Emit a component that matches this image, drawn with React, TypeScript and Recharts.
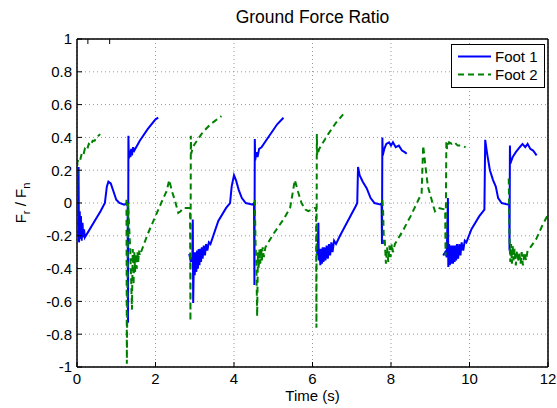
import React from 'react';
import { CartesianGrid, Line, LineChart, ReferenceArea, XAxis, YAxis } from 'recharts';

// [time (s), Fr/Fn]; null = foot in the air (line break)
const foot1Samples: [number, number | null][] = [
  [0.04, 0.22], [0.05, -0.24], [0.07, -0.05], [0.08, -0.22], [0.1, -0.08], [0.12, -0.23], [0.14, -0.12], [0.16, -0.21],
  [0.18, -0.16], [0.2, -0.21], [0.3, -0.17], [0.45, -0.11], [0.6, -0.05], [0.71, 0.0], [0.76, 0.1], [0.8, 0.13],
  [0.86, 0.12], [0.93, 0.07], [1.0, 0.02], [1.08, 0.0], [1.2, -0.01], [1.29, 0.0], [1.3, -0.73], [1.31, 0.41],
  [1.32, 0.27], [1.34, 0.32], [1.36, 0.28], [1.38, 0.33], [1.4, 0.29], [1.43, 0.34], [1.46, 0.32], [1.6, 0.38],
  [1.8, 0.45], [2.0, 0.51], [2.07, 0.52], [2.5, null],
  [2.86, -0.31], [2.9, -0.36], [2.94, -0.33], [2.95, -0.1], [2.96, -0.61], [2.98, -0.3], [3.0, -0.44], [3.02, -0.3],
  [3.04, -0.42], [3.06, -0.29], [3.08, -0.4], [3.1, -0.28], [3.12, -0.38], [3.14, -0.28], [3.16, -0.36], [3.18, -0.27],
  [3.2, -0.34], [3.23, -0.26], [3.26, -0.32], [3.29, -0.25], [3.32, -0.29], [3.36, -0.24], [3.4, -0.25], [3.6, -0.11],
  [3.8, -0.03], [3.9, 0.0], [3.94, 0.1], [4.0, 0.17], [4.05, 0.14], [4.12, 0.08], [4.2, 0.03], [4.3, 0.0],
  [4.48, -0.01], [4.51, 0.0], [4.52, -0.5], [4.53, 0.39], [4.54, 0.26], [4.57, 0.31], [4.6, 0.28], [4.64, 0.33],
  [4.7, 0.34], [4.9, 0.41], [5.1, 0.48], [5.26, 0.52], [5.7, null],
  [6.1, -0.27], [6.13, -0.32], [6.15, -0.12], [6.16, -0.35], [6.18, -0.28], [6.2, -0.38], [6.22, -0.28], [6.24, -0.37],
  [6.26, -0.27], [6.28, -0.36], [6.3, -0.27], [6.33, -0.35], [6.36, -0.26], [6.39, -0.34], [6.42, -0.25], [6.45, -0.32],
  [6.48, -0.24], [6.51, -0.3], [6.55, -0.23], [6.6, -0.25], [6.7, -0.2], [6.9, -0.11], [7.1, -0.02], [7.14, 0.0],
  [7.16, 0.22], [7.2, 0.17], [7.28, 0.13], [7.38, 0.09], [7.48, 0.03], [7.58, 0.0], [7.74, -0.01], [7.76, 0.0],
  [7.77, -0.25], [7.78, 0.4], [7.79, 0.29], [7.83, 0.33], [7.88, 0.36], [7.95, 0.37], [8.0, 0.35], [8.05, 0.37],
  [8.12, 0.34], [8.2, 0.35], [8.28, 0.32], [8.35, 0.31], [8.4, 0.3], [8.9, null],
  [9.33, -0.32], [9.38, -0.3], [9.42, -0.33], [9.45, 0.03], [9.46, -0.39], [9.48, -0.25], [9.5, -0.38], [9.52, -0.26],
  [9.54, -0.37], [9.56, -0.26], [9.58, -0.37], [9.6, -0.26], [9.62, -0.36], [9.64, -0.26], [9.66, -0.35], [9.68, -0.25],
  [9.71, -0.34], [9.74, -0.25], [9.77, -0.32], [9.8, -0.24], [9.84, -0.29], [9.88, -0.23], [9.92, -0.24], [10.05, -0.16],
  [10.25, -0.08], [10.38, -0.04], [10.4, 0.385], [10.45, 0.3], [10.52, 0.2], [10.6, 0.14], [10.67, 0.1], [10.73, 0.03],
  [10.82, 0.0], [10.99, -0.01], [11.01, 0.0], [11.02, -0.29], [11.03, 0.35], [11.04, 0.24], [11.1, 0.28], [11.18, 0.31],
  [11.28, 0.34], [11.35, 0.36], [11.42, 0.34], [11.48, 0.36], [11.55, 0.33], [11.62, 0.32], [11.71, 0.29],
];

const foot2Samples: [number, number | null][] = [
  [0.0, -0.2], [0.01, 0.25], [0.05, 0.27], [0.08, 0.26], [0.12, 0.3], [0.16, 0.29], [0.2, 0.33], [0.25, 0.32],
  [0.3, 0.36], [0.35, 0.35], [0.4, 0.38], [0.45, 0.38], [0.5, 0.4], [0.59, 0.42], [0.9, null],
  [1.26, 0.02], [1.27, -0.98], [1.3, 0.0], [1.36, -0.3], [1.4, -0.65], [1.42, -0.28], [1.44, -0.5], [1.46, -0.3],
  [1.48, -0.42], [1.5, -0.31], [1.52, -0.4], [1.54, -0.3], [1.56, -0.36], [1.58, -0.29], [1.6, -0.32], [1.8, -0.19],
  [2.0, -0.08], [2.2, 0.03], [2.28, 0.07], [2.35, 0.14], [2.42, 0.07], [2.49, 0.02], [2.58, -0.06], [2.64, -0.05],
  [2.71, -0.03], [2.88, -0.03], [2.89, -0.72], [2.9, 0.41], [2.91, 0.3], [2.95, 0.34], [3.0, 0.36], [3.2, 0.43],
  [3.4, 0.48], [3.68, 0.53], [4.1, null],
  [4.53, 0.02], [4.55, -0.25], [4.57, -0.38], [4.59, -0.69], [4.61, -0.3], [4.63, -0.4], [4.65, -0.28], [4.67, -0.37],
  [4.69, -0.27], [4.71, -0.35], [4.73, -0.27], [4.76, -0.33], [4.8, -0.27], [5.0, -0.19], [5.26, -0.1], [5.43, -0.03],
  [5.55, 0.14], [5.63, 0.07], [5.72, 0.0], [5.82, -0.04], [5.89, -0.05], [6.06, -0.03], [6.09, -0.03], [6.1, -0.76],
  [6.11, 0.42], [6.12, 0.29], [6.17, 0.33], [6.22, 0.35], [6.4, 0.42], [6.6, 0.49], [6.78, 0.54], [7.3, null],
  [7.78, 0.02], [7.8, -0.05], [7.82, -0.25], [7.84, -0.22], [7.87, -0.37], [7.9, -0.27], [7.93, -0.36], [7.96, -0.26],
  [7.99, -0.33], [8.02, -0.25], [8.05, -0.3], [8.1, -0.25], [8.3, -0.17], [8.5, -0.08], [8.7, 0.02], [8.78, 0.06],
  [8.82, 0.35], [8.88, 0.22], [8.94, 0.1], [9.0, 0.05], [9.08, -0.02], [9.12, -0.05], [9.2, -0.03], [9.38, -0.04],
  [9.39, -0.32], [9.41, 0.38], [9.43, 0.33], [9.48, 0.37], [9.55, 0.36], [9.62, 0.37], [9.7, 0.35], [9.8, 0.35],
  [9.9, 0.34], [10.5, null],
  [11.0, 0.15], [11.02, -0.22], [11.04, -0.36], [11.06, -0.25], [11.08, -0.37], [11.1, -0.26], [11.12, -0.35],
  [11.15, -0.28], [11.18, -0.38], [11.21, -0.29], [11.24, -0.36], [11.27, -0.3], [11.3, -0.37], [11.33, -0.3],
  [11.36, -0.38], [11.4, -0.3], [11.44, -0.35], [11.48, -0.29], [11.55, -0.27], [11.7, -0.22], [11.85, -0.14],
  [12.0, -0.07],
];

const timeTicks = [0, 2, 4, 6, 8, 10, 12];
const ratioTicks = [-1, -0.8, -0.6, -0.4, -0.2, 0, 0.2, 0.4, 0.6, 0.8, 1];

const foot1 = foot1Samples.map(([t, v]) => ({ t, v }));
const foot2 = foot2Samples.map(([t, v]) => ({ t, v }));

const FONT = '"Liberation Sans", Arial, Helvetica, sans-serif';
const tickStyle = { fontSize: 15, fill: '#000', fontFamily: FONT };
const noTick = () => <g />;

const LegendBox = () => (
  <svg width={94} height={44} style={{ position: 'absolute', left: 451, top: 44 }}>
    <rect x={0.5} y={0.5} width={93} height={43} fill="#fff" stroke="#000" />
    <line x1={7} y1={12.5} x2={40} y2={12.5} stroke="#0000ff" strokeWidth={2} />
    <text x={44} y={17.5} fontSize={15} fontFamily={FONT} fill="#000">Foot 1</text>
    <line x1={7} y1={30.5} x2={40} y2={30.5} stroke="#008000" strokeWidth={2} strokeDasharray="6 4" />
    <text x={44} y={35.5} fontSize={15} fontFamily={FONT} fill="#000">Foot 2</text>
  </svg>
);

export default function App() {
  return (
    <div style={{ position: 'absolute', left: 0, top: 0, width: 557, height: 408, background: '#fff', fontFamily: FONT }}>
      <div style={{ position: 'absolute', left: 77, width: 471, top: 7, textAlign: 'center', fontSize: 17.5, color: '#000' }}>
        Ground Force Ratio
      </div>
      <div style={{ position: 'absolute', left: 77, width: 471, top: 387, textAlign: 'center', fontSize: 15, color: '#000' }}>
        Time (s)
      </div>
      <div
        style={{
          position: 'absolute',
          left: 22,
          top: 203,
          transform: 'translate(-50%, -50%) rotate(-90deg)',
          whiteSpace: 'nowrap',
          fontSize: 15,
          color: '#000',
        }}
      >
        F<sub style={{ fontSize: 11 }}>r</sub> / F<sub style={{ fontSize: 11 }}>n</sub>
      </div>
      <LineChart width={557} height={408} data={foot1} margin={{ top: 38, right: 8, bottom: 11, left: 27 }}>
        <CartesianGrid stroke="#999" strokeDasharray="1 3" />
        <XAxis
          dataKey="t"
          type="number"
          domain={[0, 12]}
          ticks={timeTicks}
          allowDataOverflow
          height={30}
          stroke="#000"
          tickSize={-5}
          tickMargin={11}
          tick={tickStyle}
        />
        <XAxis xAxisId="top" orientation="top" type="number" domain={[0, 12]} ticks={timeTicks} height={1} stroke="#000" tickSize={-5} tick={noTick} />
        <YAxis
          type="number"
          domain={[-1, 1]}
          ticks={ratioTicks}
          allowDataOverflow
          width={50}
          stroke="#000"
          tickSize={-5}
          tickMargin={10}
          tick={tickStyle}
          tickFormatter={(v: number) => String(Math.round(v * 10) / 10)}
        />
        <YAxis yAxisId="right" orientation="right" type="number" domain={[-1, 1]} ticks={ratioTicks} width={1} stroke="#000" tickSize={-5} tick={noTick} />
        <ReferenceArea x1={0} x2={12} y1={-1} y2={1} fill="none" stroke="#000" strokeWidth={1} ifOverflow="visible" />
        <Line
          data={foot1}
          dataKey="v"
          name="Foot 1"
          type="linear"
          stroke="#0000ff"
          strokeWidth={2}
          dot={false}
          connectNulls={false}
          isAnimationActive={false}
        />
        <Line
          data={foot2}
          dataKey="v"
          name="Foot 2"
          type="linear"
          stroke="#008000"
          strokeWidth={2}
          strokeDasharray="6 4"
          dot={false}
          connectNulls={false}
          isAnimationActive={false}
        />
      </LineChart>
      <LegendBox />
    </div>
  );
}
